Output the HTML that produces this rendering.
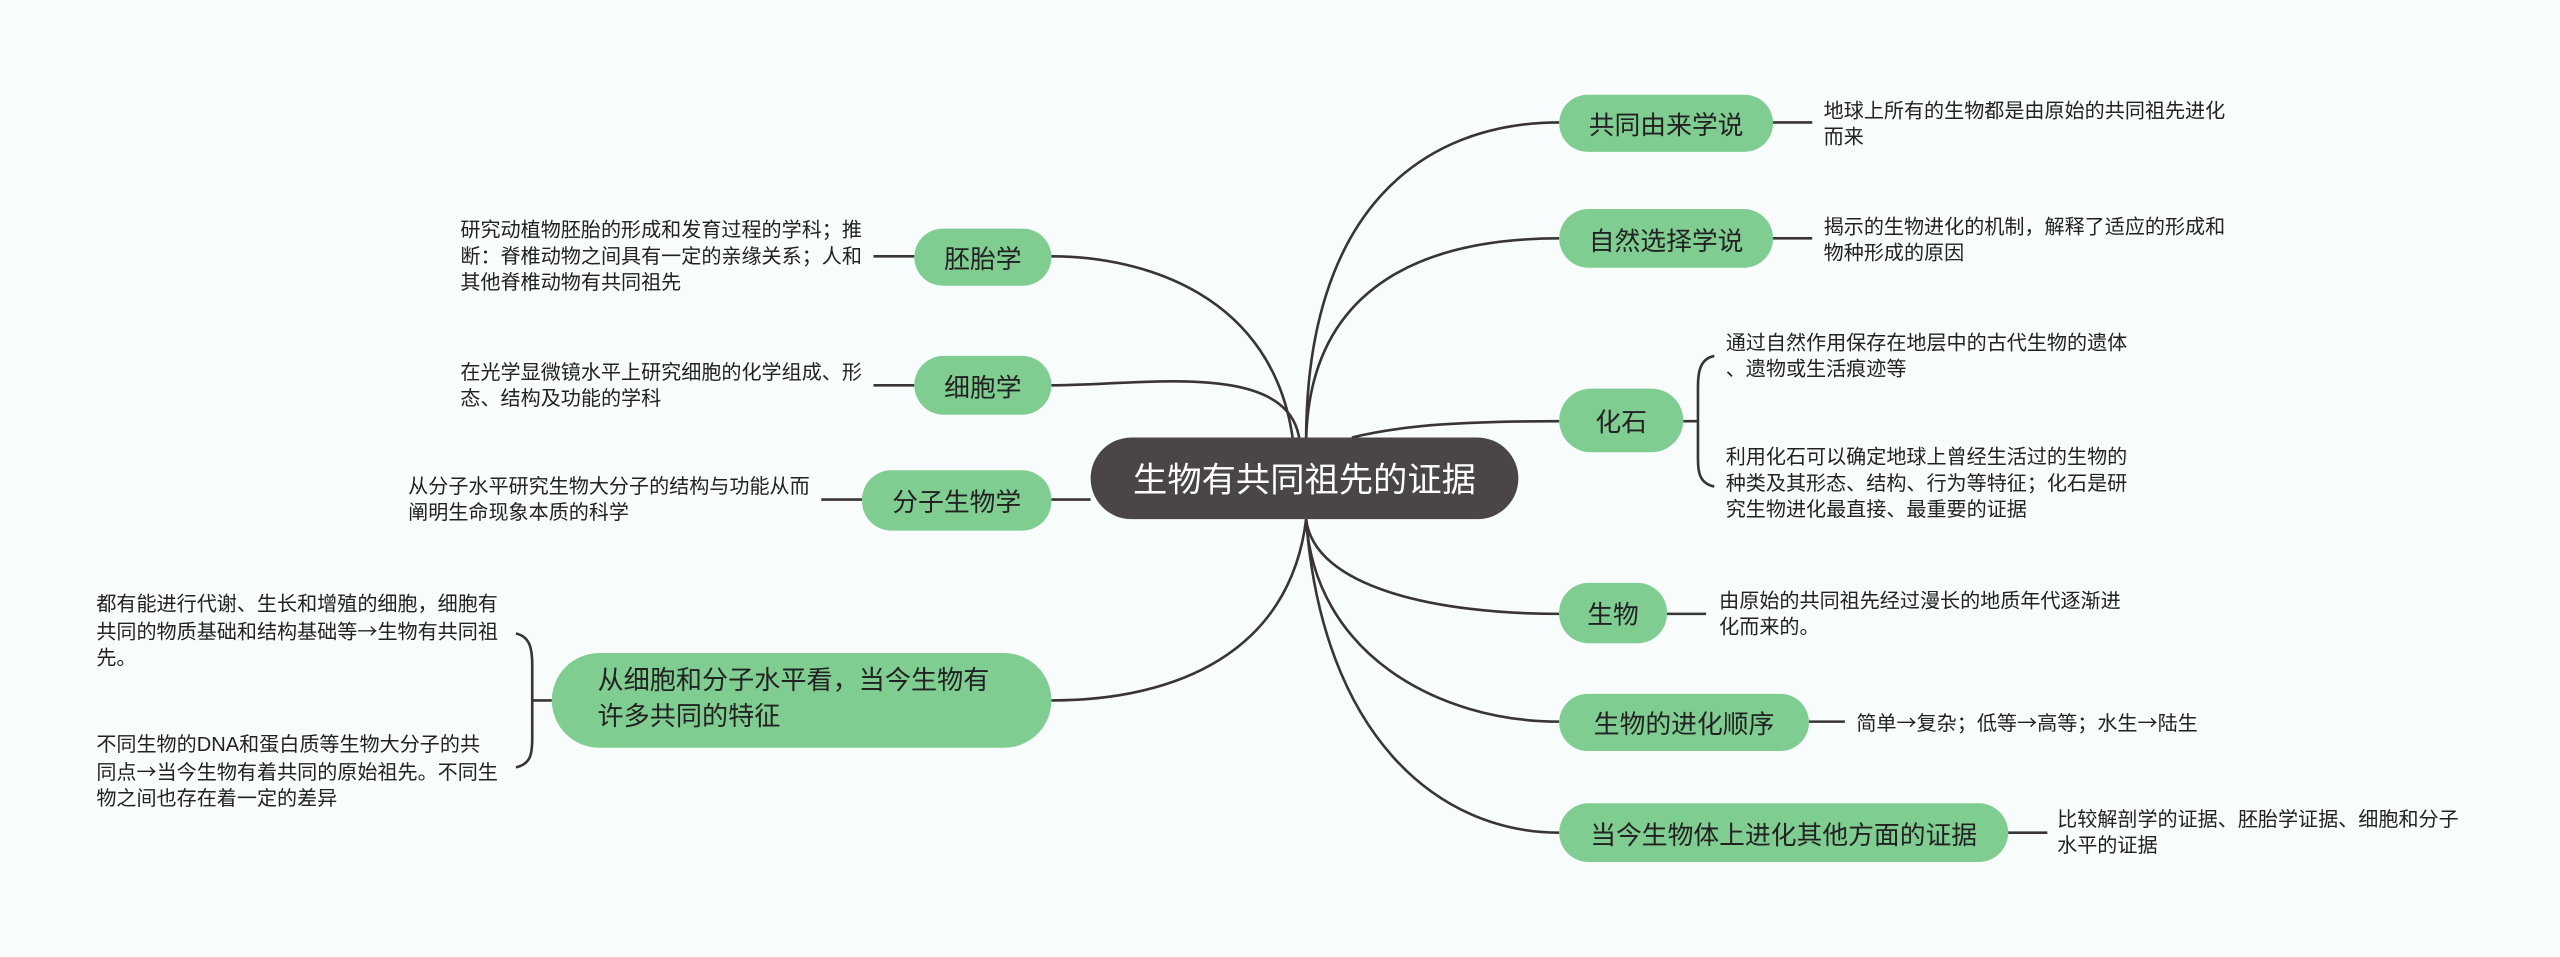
<!DOCTYPE html>
<html><head><meta charset="utf-8"><style>
html,body{margin:0;padding:0;width:2560px;height:957px;overflow:hidden;background:#f8fcfc}
#s{position:absolute;left:0;top:0;width:1568px;height:586px;transform:scale(1.63265);transform-origin:0 0;font-family:"Liberation Sans","Noto Sans CJK SC",sans-serif;color:#222}
.n{position:absolute;background:#80cd92;border-radius:18px;display:flex;align-items:center;justify-content:center;font-size:15.8px;color:#222;box-sizing:border-box;white-space:nowrap}
.t{position:absolute;font-size:12.3px;line-height:16px;white-space:nowrap;color:#222}
.a{font-family:"Noto Sans CJK SC",sans-serif}
svg{position:absolute;left:0;top:0}
</style></head><body><div id="s">
<svg width="1568" height="586" fill="none" stroke="#3a3535" stroke-width="1.6">
<path d="M800,270 C800,130 870,75 955,75"/>
<path d="M800,270 C802,170 880,146 955,146"/>
<path d="M828,268 C860,260 900,258 955,258"/>
<path d="M800,318 C805,360 880,376 955,376"/>
<path d="M800,318 C805,400 880,442 955,442"/>
<path d="M800,318 C810,450 880,510 955,510"/>
<path d="M792,270 C780,180 700,157 644,157"/>
<path d="M796,270 C790,220 700,236 644,236"/>
<path d="M668,306 L644,306"/>
<path d="M800,318 C790,400 720,429 644,429"/>
<path d="M1086,75 L1110,75 M1086,146 L1110,146 M1021,376 L1045,376 M1108,442 L1130,442 M1230,510 L1254,510"/>
<path d="M560,157 L535,157 M560,236 L535,236 M528,306 L503,306"/>
<path d="M1031,258 L1040,258 M1050,218 C1040,220 1040,230 1040,240 L1040,278 C1040,288 1040,296 1050,298"/>
<path d="M338,429 L326,429 M316,388 C325,390 326,398 326,408 L326,452 C326,462 325,468 316,470"/>
</svg>
<div class="n" style="left:668px;top:268px;width:262px;height:50px;border-radius:25px;background:#4a4646;color:#fff;font-size:21px">生物有共同祖先的证据</div>
<div class="n" style="left:955px;top:58px;width:131px;height:35px">共同由来学说</div>
<div class="n" style="left:955px;top:128px;width:131px;height:36px">自然选择学说</div>
<div class="n" style="left:955px;top:238px;width:76px;height:39px;border-radius:20px">化石</div>
<div class="n" style="left:955px;top:357px;width:66px;height:37px">生物</div>
<div class="n" style="left:955px;top:425px;width:153px;height:35px">生物的进化顺序</div>
<div class="n" style="left:955px;top:492px;width:275px;height:36px">当今生物体上进化其他方面的证据</div>
<div class="n" style="left:560px;top:140px;width:84px;height:35px">胚胎学</div>
<div class="n" style="left:560px;top:218px;width:84px;height:36px">细胞学</div>
<div class="n" style="left:528px;top:288px;width:116px;height:37px">分子生物学</div>
<div class="n" style="left:338px;top:400px;width:306px;height:58px;border-radius:29px;justify-content:flex-start;padding-left:28px;font-size:16px;line-height:22px">从细胞和分子水平看，当今生物有<br>许多共同的特征</div>
<div class="t" style="left:1117px;top:60px">地球上所有的生物都是由原始的共同祖先进化<br>而来</div>
<div class="t" style="left:1117px;top:131px">揭示的生物进化的机制，解释了适应的形成和<br>物种形成的原因</div>
<div class="t" style="left:1057px;top:202px">通过自然作用保存在地层中的古代生物的遗体<br>、遗物或生活痕迹等</div>
<div class="t" style="left:1057px;top:272px">利用化石可以确定地球上曾经生活过的生物的<br>种类及其形态、结构、行为等特征；化石是研<br>究生物进化最直接、最重要的证据</div>
<div class="t" style="left:1053px;top:360px">由原始的共同祖先经过漫长的地质年代逐渐进<br>化而来的。</div>
<div class="t" style="left:1137px;top:434px">简单<span class="a">→</span>复杂；低等<span class="a">→</span>高等；水生<span class="a">→</span>陆生</div>
<div class="t" style="left:1260px;top:494px">比较解剖学的证据、胚胎学证据、细胞和分子<br>水平的证据</div>
<div class="t" style="left:282px;top:133px">研究动植物胚胎的形成和发育过程的学科；推<br>断：脊椎动物之间具有一定的亲缘关系；人和<br>其他脊椎动物有共同祖先</div>
<div class="t" style="left:282px;top:220px">在光学显微镜水平上研究细胞的化学组成、形<br>态、结构及功能的学科</div>
<div class="t" style="left:250px;top:290px">从分子水平研究生物大分子的结构与功能从而<br>阐明生命现象本质的科学</div>
<div class="t" style="left:59px;top:362px">都有能进行代谢、生长和增殖的细胞，细胞有<br>共同的物质基础和结构基础等<span class="a">→</span>生物有共同祖<br>先。</div>
<div class="t" style="left:59px;top:448px">不同生物的DNA和蛋白质等生物大分子的共<br>同点<span class="a">→</span>当今生物有着共同的原始祖先。不同生<br>物之间也存在着一定的差异</div>
</div></body></html>
